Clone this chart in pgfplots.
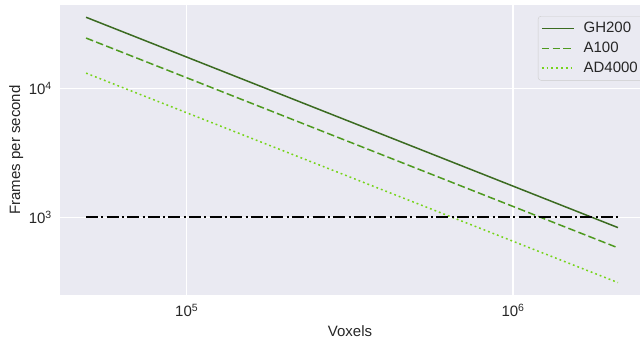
\documentclass[border=0pt]{standalone}
\usepackage{fontspec}
\setmainfont{Liberation Sans}
\usepackage{pgfplots}
\pgfplotsset{compat=1.18}

\definecolor{bgc}{HTML}{EAEAF2}
\definecolor{txt}{HTML}{262626}
\definecolor{gh}{HTML}{3B6B21}
\definecolor{aa}{HTML}{4E9A1F}
\definecolor{ad}{HTML}{76D41A}
\definecolor{legframe}{HTML}{CCCCCC}
\newcommand\bigfont{\fontsize{15bp}{18bp}\selectfont}

\begin{document}
\bigfont
\begin{tikzpicture}
\begin{axis}[
  scale only axis,
  width=580bp, height=290bp,
  xmode=log, ymode=log,
  xmin=40900, xmax=2450000,
  ymin=250, ymax=44200,
  axis background/.style={fill=bgc},
  axis line style={draw=none},
  tick style={draw=none},
  major tick length=0pt, minor tick length=0pt,
  minor xtick={}, minor ytick={},
  xtick={1e5,1e6}, xticklabels={10\textsuperscript{5},10\textsuperscript{6}},
  ytick={1e3,1e4}, yticklabels={10\textsuperscript{3},10\textsuperscript{4}},
  x tick label style={text=txt, yshift=-4bp},
  y tick label style={text=txt, xshift=-3bp},
  grid=major,
  major grid style={draw=white, line width=1.3bp},
  xlabel={Voxels}, ylabel={Frames per second},
  xlabel style={text=txt, anchor=base, at={(axis description cs:0.5,0)}, yshift=-42bp},
  ylabel style={text=txt, anchor=base, at={(axis description cs:0,0.5)}, yshift=40bp},
  legend style={at={(rel axis cs:1,0.962)}, anchor=north east, xshift=4bp,
    fill=bgc, draw=legframe, rounded corners=3bp, text=txt,
    font=\bigfont, nodes={inner ysep=2.5bp, inner xsep=3bp},
    row sep=2bp,
    /tikz/every odd column/.append style={column sep=6bp},
    inner xsep=3bp, inner ysep=3.5bp},
  legend cell align=left,
  legend image code/.code={\draw[#1, line width=1.5bp] (0bp,0bp) -- (32bp,0bp);},
]
\addplot[gh, line width=1.5bp] coordinates {(49152,35500) (2097152,832)};
\addlegendentry{GH200}
\addplot[aa, line width=1.5bp, dash pattern=on 7.5bp off 3.3bp] coordinates {(49152,24500) (2097152,580)};
\addlegendentry{A100}
\addplot[ad, line width=1.5bp, dash pattern=on 1.8bp off 3bp] coordinates {(49152,13100) (2097152,312)};
\addlegendentry{AD4000}
\addplot[black, line width=1.8bp, dash pattern=on 12bp off 3.3bp on 2bp off 3.3bp, forget plot] coordinates {(49152,1000) (2097152,1000)};
\end{axis}
\pgfresetboundingbox
\path (-60bp,-48bp) rectangle (580bp,295bp);
\end{tikzpicture}
\end{document}
